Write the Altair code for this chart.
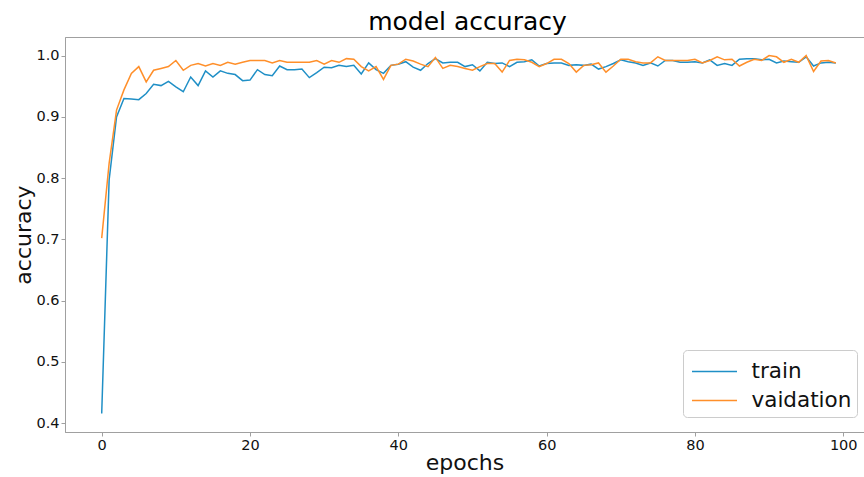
import altair as alt
import pandas as pd

epochs = list(range(100))

train_acc = [
    0.416, 0.797, 0.900, 0.930, 0.929, 0.928, 0.938, 0.953, 0.951, 0.958,
    0.949, 0.941, 0.965, 0.951, 0.975, 0.965, 0.975, 0.971, 0.969, 0.959,
    0.960, 0.977, 0.969, 0.967, 0.983, 0.977, 0.977, 0.978, 0.964, 0.972,
    0.981, 0.980, 0.984, 0.982, 0.984, 0.970, 0.988, 0.977, 0.971, 0.984,
    0.986, 0.990, 0.981, 0.976, 0.987, 0.995, 0.988, 0.989, 0.989, 0.982,
    0.985, 0.975, 0.989, 0.987, 0.988, 0.982, 0.989, 0.990, 0.993, 0.983,
    0.987, 0.988, 0.988, 0.984, 0.985, 0.984, 0.986, 0.978, 0.982, 0.987,
    0.993, 0.990, 0.988, 0.984, 0.988, 0.983, 0.992, 0.992, 0.989, 0.989,
    0.990, 0.988, 0.993, 0.984, 0.987, 0.984, 0.994, 0.995, 0.995, 0.993,
    0.994, 0.988, 0.991, 0.990, 0.989, 0.998, 0.983, 0.988, 0.989, 0.988,
]

val_acc = [
    0.702, 0.824, 0.911, 0.944, 0.971, 0.982, 0.957, 0.976, 0.979, 0.982,
    0.992, 0.976, 0.984, 0.987, 0.983, 0.987, 0.984, 0.989, 0.986, 0.989,
    0.992, 0.992, 0.992, 0.988, 0.992, 0.989, 0.989, 0.989, 0.989, 0.992,
    0.986, 0.992, 0.989, 0.995, 0.994, 0.982, 0.975, 0.982, 0.961, 0.984,
    0.986, 0.994, 0.991, 0.986, 0.982, 0.997, 0.979, 0.984, 0.982, 0.979,
    0.976, 0.982, 0.987, 0.987, 0.973, 0.992, 0.994, 0.993, 0.989, 0.982,
    0.987, 0.994, 0.994, 0.987, 0.973, 0.984, 0.985, 0.988, 0.973, 0.983,
    0.994, 0.994, 0.990, 0.988, 0.988, 0.998, 0.992, 0.992, 0.992, 0.992,
    0.994, 0.988, 0.992, 0.998, 0.993, 0.994, 0.983, 0.989, 0.994, 0.992,
    1.000, 0.998, 0.989, 0.994, 0.989, 1.000, 0.974, 0.991, 0.992, 0.988,
]

series_names = ["train", "vaidation"]
series_colors = ["#1f8fc6", "#ff8f2a"]
x_ticks = [0, 20, 40, 60, 80, 100]
y_ticks = [0.4, 0.5, 0.6, 0.7, 0.8, 0.9, 1.0]

df = pd.DataFrame({
    "epoch": epochs * 2,
    "accuracy": train_acc + val_acc,
    "series": [series_names[0]] * len(epochs) + [series_names[1]] * len(epochs),
})

FONT = "DejaVu Sans"
GRAY = "#a0a0a0"

chart = alt.Chart(df).mark_line(strokeWidth=1.5, clip=True).encode(
    x=alt.X(
        "epoch:Q",
        scale=alt.Scale(domain=[-4.95, 102.8], nice=False, zero=False),
        axis=alt.Axis(
            title="epochs", values=x_ticks, grid=False, format="d",
            titleBaseline="alphabetic", titleY=37,
        ),
    ),
    y=alt.Y(
        "accuracy:Q",
        scale=alt.Scale(domain=[0.3857, 1.0303], nice=False, zero=False),
        axis=alt.Axis(
            title="accuracy", values=y_ticks, grid=False, format=".1f",
            titleBaseline="alphabetic", titleX=-35,
        ),
    ),
    color=alt.Color(
        "series:N",
        scale=alt.Scale(domain=series_names, range=series_colors),
        legend=alt.Legend(
            title=None, orient="none", legendX=618, legendY=313,
            symbolType="M-1.5,0H1.5", symbolSize=900, symbolStrokeWidth=1.5,
            labelFontSize=21.5, labelFont=FONT, labelColor="#111111",
            labelOffset=21, padding=5.5, rowPadding=2,
            fillColor="white", strokeColor="#cccccc", cornerRadius=4,
            symbolOffset=10,
        ),
    ),
).properties(
    width=799,
    height=395,
    background="white",
    title=alt.TitleParams(
        "model accuracy", fontSize=25, font=FONT, fontWeight="normal",
        anchor="middle", offset=2, color="black", dx=3,
    ),
    autosize=alt.AutoSizeParams(type="none"),
    padding={"left": 65, "top": 37, "right": 0, "bottom": 45},
).configure_view(
    stroke=GRAY, strokeWidth=1,
).configure_axis(
    labelFont=FONT, labelFontSize=14.5, labelColor="#111111",
    titleFont=FONT, titleFontSize=22, titleFontWeight="normal", titleColor="#111111",
    tickSize=4, tickColor=GRAY, domainColor=GRAY, labelPadding=2,
)

chart.save("out.html", embed_options={"renderer": "svg", "actions": False})
